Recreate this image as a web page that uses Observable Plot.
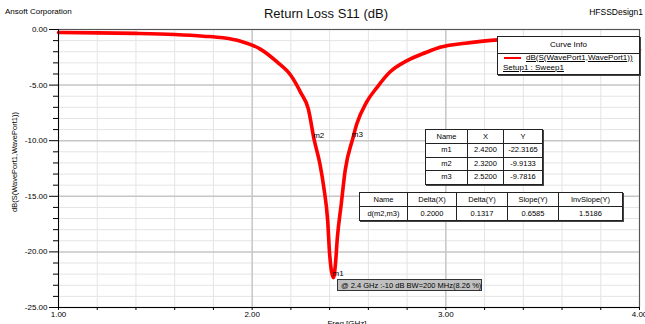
<!DOCTYPE html>
<html><head><meta charset="utf-8">
<script src="https://cdn.jsdelivr.net/npm/d3@7"></script>
<script src="https://cdn.jsdelivr.net/npm/@observablehq/plot@0.6"></script>
<style>
body{margin:0;background:#fff;font-family:"Liberation Sans",Arial,sans-serif;}
#wrap{position:relative;width:645px;height:324px;overflow:hidden;background:#fff;}
.abs{position:absolute;white-space:nowrap;color:#000;}
table.mk{position:absolute;border-collapse:collapse;background:#fff;font-size:7.5px;box-shadow:1px 1px 0 #444;}
table.mk td{border:1px solid #222;text-align:center;padding:0;line-height:12px;}
</style></head>
<body><div id="wrap"></div>
<script>
// Curve data: frequency (GHz) and dB(S11)
const freq = [1.00,1.20,1.40,1.60,1.75,1.85,1.94,2.04,2.13,2.20,2.25,2.29,2.32,2.35,2.37,2.39,2.40,2.42,2.43,2.44,2.46,2.48,2.52,2.54,2.59,2.645,2.71,2.80,2.90,2.97,3.10,3.27,3.45,3.65,3.85,4.00];
const s11  = [-0.27,-0.30,-0.35,-0.45,-0.60,-0.75,-1.05,-1.74,-2.94,-4.14,-5.65,-7.15,-9.91,-12.1,-14.2,-17.2,-20.2,-22.32,-21.1,-18.7,-15.7,-12.7,-9.78,-8.5,-6.55,-5.2,-3.85,-2.8,-2.05,-1.6,-1.23,-0.93,-0.85,-1.0,-1.35,-1.83];

// Markers
const markerNames = ["m1","m2","m3"];
const markerX = [2.4200, 2.3200, 2.5200];
const markerY = [-22.3165, -9.9133, -9.7816];

// Delta table
const deltaHeaders = ["Name","Delta(X)","Delta(Y)","Slope(Y)","InvSlope(Y)"];
const deltaRow = ["d(m2,m3)","0.2000","0.1317","0.6585","1.5186"];

// Tick values
const xMajor = [1, 2, 3, 4];
const yMajor = [0, -5, -10, -15, -20, -25];

const xMinor = d3.range(0, 16).map(i => 1 + i * 0.2).filter(v => Math.abs(v - Math.round(v)) > 1e-6);
const yMinor = d3.range(0, 26).map(i => -i).filter(v => v % 5 !== 0);

const curve = freq.map((f, i) => ({f, db: s11[i]}));
const markers = markerNames.map((n, i) => ({name: n, x: markerX[i], y: markerY[i]}));

const plot = Plot.plot({
  width: 645, height: 324,
  marginLeft: 58, marginRight: 6, marginTop: 29, marginBottom: 17,
  x: {domain: [1, 4]},
  y: {domain: [-25, 0]},
  style: {fontFamily: "'Liberation Sans', Arial, sans-serif", fontSize: "8px", background: "transparent", overflow: "visible"},
  marks: [
    Plot.gridX(xMinor, {stroke: "#e4e4e4", strokeOpacity: 1}),
    Plot.gridY(yMinor, {stroke: "#e4e4e4", strokeOpacity: 1}),
    Plot.gridX(xMajor, {stroke: "#c6c6c6", strokeOpacity: 1, strokeWidth: 1.5}),
    Plot.gridY(yMajor, {stroke: "#c6c6c6", strokeOpacity: 1, strokeWidth: 1.5}),
    Plot.ruleY([0], {stroke: "#555"}),
    Plot.ruleX([4], {stroke: "#555"}),
    Plot.line(curve, {x: "f", y: "db", stroke: "#ff0000", strokeWidth: 3.6, curve: "monotone-x"}),
    Plot.axisY(yMajor, {tickSize: 9, tickPadding: 2, tickFormat: d => d.toFixed(2), label: null, fill: "#000", stroke: "#000"}),
    Plot.axisY(yMinor, {tickSize: 5, tickFormat: () => "", label: null, stroke: "#000"}),
    Plot.axisX(xMajor, {tickSize: 3, tickPadding: 1, tickFormat: d => d.toFixed(2), label: null, fill: "#000", stroke: "#000"}),
    Plot.axisX(xMinor, {tickSize: 3, tickFormat: () => "", label: null, stroke: "#000"}),
    Plot.ruleX([1], {stroke: "#000"}),
    Plot.ruleY([-25], {stroke: "#000"}),
    Plot.text(markers, {x: "x", y: "y", text: "name", textAnchor: "start", dx: -1, dy: -4, fontSize: 8, fill: "#000"})
  ]
});
plot.style.position = "absolute";
plot.style.left = "0px";
plot.style.top = "0px";
const wrap = document.getElementById("wrap");
wrap.appendChild(plot);

function addText(txt, css) {
  const d = document.createElement("div");
  d.className = "abs";
  d.textContent = txt;
  Object.assign(d.style, css);
  wrap.appendChild(d);
  return d;
}
addText("Ansoft Corporation", {left: "5px", top: "7px", fontSize: "8px"});
addText("Return Loss S11 (dB)", {left: "326px", top: "6px", fontSize: "13px", transform: "translateX(-50%)", color: "#111"});
addText("HFSSDesign1", {right: "2px", top: "7px", fontSize: "8.5px"});
addText("dB(S(WavePort1,WavePort1))", {left: "14px", top: "162px", fontSize: "7.5px", transform: "translate(-50%,-50%) rotate(-90deg)"});
addText("Freq [GHz]", {left: "347px", top: "319px", fontSize: "8px", transform: "translateX(-50%)"});

// Curve info legend
const leg = document.createElement("div");
Object.assign(leg.style, {position: "absolute", left: "497px", top: "36px", width: "141px", height: "37px", background: "#fff", border: "1px solid #222", boxShadow: "1px 1px 0 #444", fontSize: "8px"});
leg.innerHTML = `<div style="height:16px;line-height:16px;text-align:center;border-bottom:1px solid #222">Curve Info</div>
<div style="position:absolute;left:6px;top:20px;width:17px;height:2px;background:#f00"></div>
<div style="position:absolute;left:28px;top:15.5px;text-decoration:underline">dB(S(WavePort1,WavePort1))</div>
<div style="position:absolute;left:5px;top:25.5px;text-decoration:underline">Setup1 : Sweep1</div>`;
wrap.appendChild(leg);

// Marker table
const t1 = document.createElement("table");
t1.className = "mk";
Object.assign(t1.style, {left: "425px", top: "129px"});
const w1 = [41, 35, 38];
let h1 = `<tr style="height:14px">${["Name","X","Y"].map((h,i)=>`<td style="width:${w1[i]}px">${h}</td>`).join("")}</tr>`;
markers.forEach(m => {
  h1 += `<tr style="height:13.5px"><td>${m.name}</td><td>${m.x.toFixed(4)}</td><td>${m.y.toFixed(4)}</td></tr>`;
});
t1.innerHTML = h1;
wrap.appendChild(t1);

// Delta table
const t2 = document.createElement("table");
t2.className = "mk";
Object.assign(t2.style, {left: "359px", top: "192px"});
const w2 = [47, 48, 50, 50, 63];
t2.innerHTML = `<tr style="height:14px">${deltaHeaders.map((h,i)=>`<td style="width:${w2[i]}px">${h}</td>`).join("")}</tr>
<tr style="height:14px">${deltaRow.map(v=>`<td>${v}</td>`).join("")}</tr>`;
wrap.appendChild(t2);

// Annotation
const ann = document.createElement("div");
Object.assign(ann.style, {position: "absolute", left: "337px", top: "279px", width: "145px", height: "12px", background: "#c0c0c0", border: "1px solid #333", fontSize: "7.5px", lineHeight: "12px", paddingLeft: "3px", boxSizing: "border-box", whiteSpace: "nowrap"});
ann.textContent = "@ 2.4 GHz :-10 dB BW=200 MHz(8.26 %)";
wrap.appendChild(ann);
</script></body></html>
